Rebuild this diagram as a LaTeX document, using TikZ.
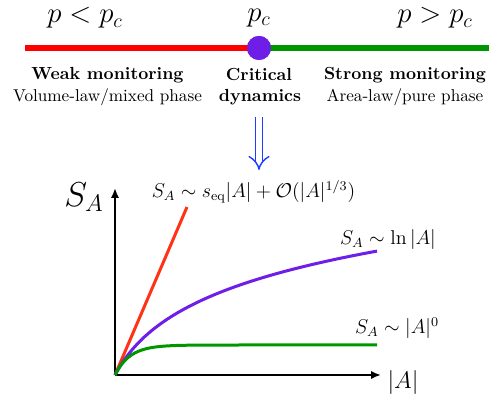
\documentclass[tikz,border=0pt]{standalone}
\usetikzlibrary{arrows.meta}
\definecolor{lred}{RGB}{255,0,0}
\definecolor{lgreen}{RGB}{0,150,0}
\definecolor{cpurple}{RGB}{110,30,230}
\definecolor{cred}{RGB}{255,50,20}
\definecolor{cblue}{RGB}{30,60,255}
\tikzset{
  toplab/.style={font=\fontsize{17}{20}\selectfont, inner sep=0pt},
  boldlab/.style={font=\fontsize{10.5}{12}\selectfont\bfseries, inner sep=0pt},
  normlab/.style={font=\fontsize{10.3}{12}\selectfont, inner sep=0pt},
  curvelab/.style={font=\fontsize{11.5}{14}\selectfont, inner sep=0pt},
  axis/.style={line width=1.2pt, -{Latex[length=6pt,width=5pt]}},
  curve/.style={line width=1.8pt},
}
\begin{document}
\begin{tikzpicture}[x=0.6pt,y=-0.6pt]
\useasboundingbox (0,0) rectangle (489,396);
% phase line
\coordinate (L) at (25,48);
\coordinate (R) at (489,48);
\node[circle, fill=cpurple, minimum size=24*0.6pt, inner sep=0pt] (C) at (259,48) {};
\draw[lred, line width=3.9pt] (L) -- (C.center);
\draw[lgreen, line width=3.9pt] (C.center) -- (R);
\node[circle, fill=cpurple, minimum size=24*0.6pt, inner sep=0pt] at (C) {};
% top labels
\node[toplab] (pl) at (85,18) {$p<p_c$};
\node[toplab] (pc) at (259,18) {$p_c$};
\node[toplab] (pg) at (435,18) {$p>p_c$};
% phase labels
\node[boldlab] (w1) at (107.5,75) {Weak monitoring};
\node[normlab] (w2) at (107.5,97) {Volume-law/mixed phase};
\node[boldlab] (c1) at (259,75) {Critical};
\node[boldlab] (c2) at (260,97) {dynamics};
\node[boldlab] (s1) at (405,75) {Strong monitoring};
\node[normlab] (s2) at (405,97) {Area-law/pure phase};
% double arrow
\coordinate (a1) at (259,117);
\coordinate (a2) at (259,170);
\draw[cblue, double, double distance=3.6pt, line width=0.85pt, -{Implies}] (a1) -- (a2);
% axes
\coordinate (O) at (115,375);
\coordinate (Y) at (115,188);
\coordinate (X) at (381,375);
\draw[axis] (O) -- (Y);
\draw[axis] (O) -- (X);
\node[font=\fontsize{20}{22}\selectfont, inner sep=0pt] (SA) at (84,197) {$S_A$};
\node[font=\fontsize{15}{17}\selectfont, inner sep=0pt] (Ax) at (403,383) {$|A|$};
% curves
\coordinate (redend) at (187,207);
\draw[cred, curve] (O) -- (redend);
\draw[cpurple, curve, domain=0:262, samples=80] plot ({115+\x},{375-53*ln(1+\x/28)});
\draw[lgreen, curve, domain=0:262, samples=80] plot ({115+\x},{375-30*(1-exp(-\x/15))});
% curve labels
\node[curvelab] (l1) at (253.5,192) {$S_A\sim s_{\mathrm{eq}}|A|+\mathcal{O}(|A|^{1/3})$};
\node[curvelab] (l2) at (388,240) {$S_A\sim \ln|A|$};
\node[curvelab] (l3) at (397,328) {$S_A\sim |A|^0$};
\end{tikzpicture}
\end{document}
